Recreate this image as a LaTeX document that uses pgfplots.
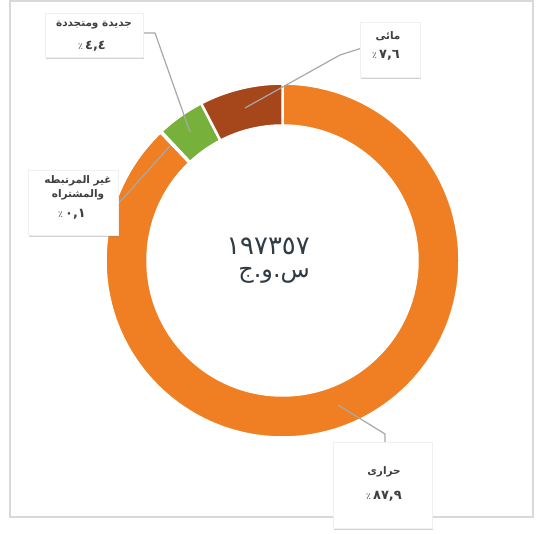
\documentclass[border=0pt]{standalone}
\usepackage{pgfplots}
\pgfplotsset{compat=1.18}
\usepackage{pgfplotstable}
\usepackage{fontspec}
\setmainfont{DejaVu Sans}
\newfontfamily\arabicfont[Script=Arabic]{DejaVu Sans}
\usetikzlibrary{shadows}
\TeXXeTstate=1
\definecolor{cOrange}{HTML}{EF7F22}
\definecolor{cGreen}{HTML}{77B03A}
\definecolor{cBrown}{HTML}{A5461B}
\definecolor{cLine}{HTML}{A8A8A8}
\definecolor{cText}{HTML}{3F3F3F}
\definecolor{cCenter}{HTML}{2F3B45}

\pgfplotstableread{
value
87.9
0.1
4.4
7.6
}\piedata

\def\cx{282.5}
\def\cy{273.5}
\pgfmathsetmacro\aA{90}
\pgfplotstablegetelem{0}{value}\of\piedata
\pgfmathsetmacro\aB{\aA-3.6*\pgfplotsretval}
\pgfplotstablegetelem{1}{value}\of\piedata
\pgfmathsetmacro\aC{\aB-3.6*\pgfplotsretval}
\pgfplotstablegetelem{2}{value}\of\piedata
\pgfmathsetmacro\aD{\aC-3.6*\pgfplotsretval}
\pgfplotstablegetelem{3}{value}\of\piedata
\pgfmathsetmacro\aE{\aD-3.6*\pgfplotsretval}

\newcommand\slice[3]{%
  \fill[#3, draw=white, line width=2.5bp] (axis cs:\cx,\cy) ++(#1:177bp)
    arc[start angle=#1, end angle=#2, radius=177bp]
    -- ++(#2+180:42bp)
    arc[start angle=#2, end angle=#1, radius=135bp] -- cycle;}

\begin{document}
\begin{tikzpicture}
\begin{axis}[width=536bp, height=534bp, scale only axis,
  xmin=0, xmax=536, ymin=0, ymax=534, hide axis, clip=false]
\addplot[draw=none] coordinates {(0,0) (536,534)};
\fill[white] (axis cs:0,0) rectangle (axis cs:536,534);
\draw[gray!30, line width=2bp] (axis cs:10,17) rectangle (axis cs:533,533);

\slice{\aA}{\aB}{cOrange}
\slice{\aB}{\aC}{cOrange}
\slice{\aC}{\aD}{cGreen}
\slice{\aD}{\aE}{cBrown}

% connector lines
\draw[cLine, line width=1.2bp] (axis cs:245,426) -- (axis cs:340,479) -- (axis cs:362,486);
\draw[cLine, line width=1.2bp] (axis cs:190,402) -- (axis cs:155,501) -- (axis cs:143,501);
\draw[cLine, line width=1.2bp] (axis cs:170,388) -- (axis cs:118,330);
\draw[cLine, line width=1.2bp] (axis cs:338,129) -- (axis cs:385,100) -- (axis cs:385,92);

% label boxes
\tikzset{lbox/.style={fill=white, draw=gray!12, line width=0.4bp, inner sep=0pt,
  drop shadow={shadow xshift=0.8bp, shadow yshift=-2bp, opacity=0.35}}}
\node[lbox, minimum width=98bp, minimum height=44bp] at (axis cs:94,499) {};
\node[lbox, minimum width=60bp, minimum height=55bp] at (axis cs:390,484.5) {};
\node[lbox, minimum width=90bp, minimum height=65bp] at (axis cs:73,331.5) {};
\node[lbox, minimum width=99bp, minimum height=86bp] at (axis cs:382.5,49) {};

\tikzset{ltxt/.style={font=\arabicfont\bfseries\fontsize{10.5}{12}\selectfont, text=cText, inner sep=0pt},
  ntxt/.style={font=\arabicfont\bfseries\fontsize{13}{15}\selectfont, text=cText, inner sep=0pt}}
\newcommand\pct{{\mdseries\fontsize{9}{10}\selectfont ٪}}

\node[ltxt] at (axis cs:94,509) {\beginR جديدة ومتجددة\endR};
\node[ntxt] at (axis cs:92,488) {\pct\,٤,٤};

\node[ltxt] at (axis cs:388,498) {\beginR مائى\endR};
\node[ntxt] at (axis cs:386,479) {\pct\,٧,٦};

\node[ltxt] at (axis cs:78,353) {\beginR غير المرتبطه\endR};
\node[ltxt] at (axis cs:78,339) {\beginR والمشتراه\endR};
\node[ntxt] at (axis cs:72,320) {\pct\,٠,١};

\node[ltxt] at (axis cs:384,62) {\beginR حرارى\endR};
\node[ntxt] at (axis cs:384,38) {\pct\,٨٧,٩};

% center
\node[anchor=east, inner sep=0pt, text=cCenter, font=\arabicfont\fontsize{26}{30}\selectfont] at (axis cs:310,288) {١٩٧٣٥٧};
\node[anchor=east, inner sep=0pt, text=cCenter, font=\arabicfont\fontsize{24}{28}\selectfont] at (axis cs:310,259) {\beginR س.و.ج\endR};
\end{axis}
\end{tikzpicture}
\end{document}
